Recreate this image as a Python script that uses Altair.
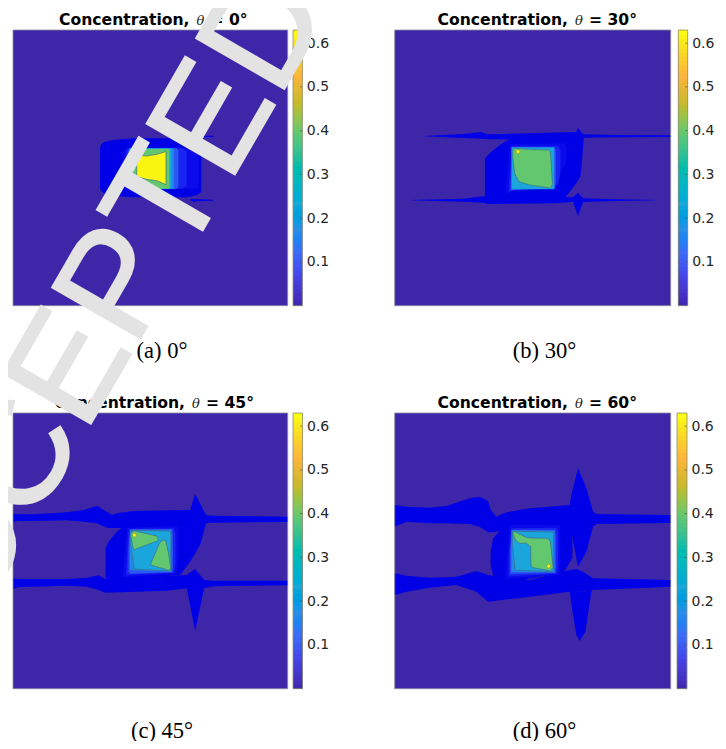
import altair as alt
import numpy as np
import pandas as pd

# Page-pixel frames of the four panels: image box, colour bar box
PANEL_IDS = ["a", "b", "c", "d"]
PANEL_LEFT = [13, 394.7, 13, 394.7]
PANEL_RIGHT = [287.7, 670.7, 287.7, 670.7]
PANEL_TOP = [30, 30, 413, 413]
PANEL_BOTTOM = [305.7, 305.7, 688.7, 688.7]
BAR_LEFT = [293, 678.3, 293, 677]
BAR_RIGHT = [302.3, 687.7, 302.5, 687]
# Shape coordinates below are measured in each panel's own grid
GRID_X = [(39, 863), (95, 923), (38, 863), (95, 923)]
GRID_Y = [(90, 917), (90, 917), (114, 941), (114, 941)]
THETA = ["0", "30", "45", "60"]
THETA_X = [200.5, 579, 196, 579]
CAPTIONS = ["(a) 0°", "(b) 30°", "(c) 45°", "(d) 60°"]
CAPTION_Y = [358, 358, 738, 738]
CAPTION_X = [162, 544.5, 162, 544.5]

BG = "#3e26a8"
BLUE = "#0000e6"
H1 = "#0a0aea"
H2 = "#1a24f0"
H3 = "#2a58f2"
H4 = "#2088e8"
CYAN = "#1aa6dc"
GREEN = "#62c76e"
YELLOW = "#f9f510"
LINE = "#3f6f8a"

CBAR_STOPS = [0.0, 0.03, 0.08, 0.13, 0.18, 0.24, 0.30, 0.36, 0.41, 0.47, 0.53, 0.58, 0.63]
CBAR_COLORS = ["#3e26a8", "#4430c4", "#4548ea", "#3d6cf8", "#2a8ee8", "#19a8d8", "#05b8bc",
               "#38c190", "#6ec86a", "#c8b92e", "#fcb43c", "#f9d528", "#f9fb15"]
CBAR_TICKS = [0.1, 0.2, 0.3, 0.4, 0.5, 0.6]
CBAR_LEVELS = [i * 0.63 / 63 for i in range(64)]

# each shape: (colour, x list, upper edge list, lower edge list, has outline)
SHAPES_A = [
    (BLUE, [555, 640], [407, 407], [411, 411], 0),
    (BLUE, [570, 582, 586, 640], [597, 597, 597, 599], [600, 606, 604, 602], 0),
    (BLUE, [300, 303, 312, 340, 400, 560, 590, 603, 604], [445, 434, 426, 420, 415, 415, 422, 432, 445],
     [565, 572, 580, 588, 592, 592, 586, 577, 565], 0),
    (H1, [370, 380, 590, 596], [452, 445, 445, 452], [558, 566, 566, 558], 0),
    (H2, [378, 385, 545, 560], [452, 445, 445, 452], [558, 566, 566, 558], 0),
    (H3, [385, 390, 530, 535], [450, 445, 445, 450], [560, 566, 566, 560], 0),
    (H4, [388, 520, 522], [446, 445, 445], [565, 566, 565], 0),
    (CYAN, [390, 514], [445, 445], [566, 566], 0),
    (GREEN, [392, 398, 508], [500, 447, 447], [530, 566, 566], 0),
    (YELLOW, [410, 440, 470, 496, 498], [466, 468, 463, 455, 456], [530, 538, 542, 553, 555], 1),
]
DOTS_A = []

SHAPES_B = [
    (BLUE, [183, 300, 355, 372, 640, 645, 656, 662, 760, 923], [408, 402, 396, 403, 396, 383, 398, 403, 405, 406],
     [409, 414, 416, 418, 420, 425, 420, 413, 412, 411], 0),
    (BLUE, [143, 300, 360, 375, 580, 630, 645, 660, 760, 878], [600, 596, 589, 592, 590, 592, 578, 595, 598, 600],
     [601, 605, 608, 612, 610, 605, 648, 606, 603, 601], 0),
    (BLUE, [366, 385, 415, 440, 600, 620, 640, 652, 656, 662], [475, 455, 432, 418, 400, 400, 400, 400, 400, 415],
     [595, 600, 605, 608, 600, 575, 550, 530, 495, 415], 0),
    (H1, [428, 440, 606, 610], [570, 432, 430, 440], [578, 578, 500, 470], 0),
    (H2, [438, 446, 585, 592], [560, 438, 438, 450], [574, 572, 555, 520], 0),
    (H3, [443, 450, 576, 578], [550, 441, 441, 460], [570, 570, 565, 540], 0),
    (H4, [445, 574], [442, 442], [568, 568], 0),
    (CYAN, [447, 572], [443, 444], [566, 567], 0),
    (GREEN, [449, 455, 468, 500, 556, 562, 568], [452, 444, 446, 448, 450, 455, 548],
     [470, 520, 545, 555, 563, 565, 553], 1),
]
DOTS_B = [(465, 455)]

SHAPES_C = [
    (BLUE, [38, 55, 100, 200, 250, 290, 320, 335, 350, 400, 540, 570, 585, 618, 640, 863],
     [416, 418, 418, 412, 405, 393, 410, 420, 415, 408, 405, 405, 357, 420, 422, 425],
     [441, 438, 438, 436, 440, 445, 458, 459, 459, 459, 459, 459, 459, 445, 443, 441], 0),
    (BLUE, [38, 55, 100, 200, 260, 295, 315, 500, 560, 585, 612, 640, 863],
     [610, 612, 612, 612, 608, 601, 612, 603, 600, 582, 615, 617, 617],
     [642, 636, 635, 632, 635, 645, 653, 647, 640, 768, 640, 634, 631], 0),
    (BLUE, [316, 325, 350, 365, 540, 570, 600, 618], [520, 500, 470, 458, 440, 430, 430, 445],
     [610, 612, 612, 612, 600, 560, 510, 445], 0),
    (H1, [368, 380, 530, 536], [605, 458, 452, 462], [608, 606, 595, 530], 0),
    (H2, [378, 385, 522, 526], [590, 461, 460, 480], [602, 600, 594, 560], 0),
    (H3, [385, 390, 516, 518], [520, 463, 462, 480], [590, 596, 592, 580], 0),
    (H4, [389, 513], [467, 466], [585, 590], 0),
    (CYAN, [392, 402, 510, 512], [472, 466, 468, 474], [510, 582, 588, 586], 1),
    (GREEN, [392, 400, 470, 475], [475, 467, 483, 495], [485, 525, 498, 495], 1),
    (GREEN, [452, 478, 487, 497, 505, 512], [565, 505, 495, 497, 535, 580], [570, 578, 580, 583, 587, 580], 1),
]
DOTS_C = [(403, 480)]

# d's green region: the step in its lower edge is kept with two nearby x values
GREEN_D_X = [450, 457, 470, 490, 503, 503.5, 510, 555, 562, 570]
GREEN_D_TOP = [472, 470, 478, 487, 489, 489, 489, 490, 500, 575]
GREEN_D_BOT = [478, 495, 505, 505, 515, 570, 578, 586, 587, 578]
SHAPES_D = [
    (BLUE, [95, 130, 200, 250, 320, 350, 375, 383, 400, 430, 500, 620, 625, 645, 670, 690, 700, 923],
     [390, 395, 398, 393, 370, 365, 378, 405, 425, 412, 400, 390, 360, 280, 340, 410, 417, 420],
     [455, 440, 445, 445, 447, 455, 472, 472, 470, 462, 455, 455, 470, 575, 530, 455, 447, 444], 0),
    (BLUE, [95, 130, 200, 280, 340, 375, 500, 620, 640, 660, 690, 923],
     [595, 602, 608, 605, 588, 600, 615, 585, 582, 590, 610, 615],
     [660, 650, 638, 630, 650, 680, 665, 650, 650, 650, 645, 635], 0),
    (BLUE, [620, 630, 640, 650, 667, 685], [640, 650, 650, 650, 650, 640], [650, 720, 780, 798, 770, 650], 0),
    (BLUE, [383, 390, 410, 430, 604, 628], [530, 490, 468, 440, 410, 410], [570, 600, 620, 625, 590, 548], 0),
    (H1, [428, 440, 590, 592], [600, 450, 450, 470], [612, 610, 600, 520], 0),
    (H2, [437, 445, 582, 585], [540, 460, 458, 470], [604, 604, 596, 560], 0),
    (H3, [442, 449, 576, 578], [520, 464, 464, 480], [598, 596, 594, 580], 0),
    (H4, [445, 574], [466, 468], [590, 592], 0),
    (CYAN, [448, 456, 568, 571], [472, 469, 471, 476], [500, 585, 590, 586], 1),
    (GREEN, GREEN_D_X, GREEN_D_TOP, GREEN_D_BOT, 1),
]
DOTS_D = [(557, 573)]

ALL_SHAPES = [SHAPES_A, SHAPES_B, SHAPES_C, SHAPES_D]
ALL_DOTS = [DOTS_A, DOTS_B, DOTS_C, DOTS_D]

WATERMARK = "ACCEPTED"
WM_X = [92.0]
WM_Y = [334.0]

W, H = 710, 733
PAGE_X = alt.Scale(domain=[0, 726], range=[-8, 718])
PAGE_Y = alt.Scale(domain=[0, 749], range=[-8, 741])
layers = []


def text_layer(x, y, text, **style):
    df = pd.DataFrame({"x": [x], "y": [y], "t": [text]})
    return alt.Chart(df).mark_text(**style).encode(
        x=alt.X("x:Q", scale=PAGE_X, axis=None),
        y=alt.Y("y:Q", scale=PAGE_Y, axis=None),
        text="t:N",
    )


for p in range(4):
    l, r, t, b = PANEL_LEFT[p], PANEL_RIGHT[p], PANEL_TOP[p], PANEL_BOTTOM[p]
    sx = alt.Scale(domain=list(GRID_X[p]), range=[l - 8, r - 8])
    sy = alt.Scale(domain=list(GRID_Y[p]), range=[t - 8, b - 8])
    bg = pd.DataFrame({"x": [GRID_X[p][0]], "x2": [GRID_X[p][1]], "y": [GRID_Y[p][0]], "y2": [GRID_Y[p][1]]})
    layers.append(alt.Chart(bg).mark_rect(color=BG).encode(
        x=alt.X("x:Q", scale=sx, axis=None), x2="x2:Q",
        y=alt.Y("y:Q", scale=sy, axis=None), y2="y2:Q"))
    for color, xs, tops, bots, outlined in ALL_SHAPES[p]:
        df = pd.DataFrame({"x": xs, "top": tops, "bot": bots})
        style = dict(color=color, interpolate="linear")
        if outlined:
            style.update(stroke=LINE, strokeWidth=0.7)
        layers.append(alt.Chart(df).mark_area(**style).encode(
            x=alt.X("x:Q", scale=sx, axis=None),
            y=alt.Y("top:Q", scale=sy, axis=None), y2="bot:Q"))
    if ALL_DOTS[p]:
        df = pd.DataFrame({"x": [d[0] for d in ALL_DOTS[p]], "y": [d[1] for d in ALL_DOTS[p]]})
        layers.append(alt.Chart(df).mark_point(filled=True, color=YELLOW, size=14, opacity=1, stroke="#8a8a40", strokeWidth=0.5).encode(
            x=alt.X("x:Q", scale=sx, axis=None), y=alt.Y("y:Q", scale=sy, axis=None)))
    # frame
    layers.append(alt.Chart(bg).mark_rect(fill=None, stroke="#8c8c9c", strokeWidth=0.8).encode(
        x=alt.X("x:Q", scale=sx, axis=None), x2="x2:Q",
        y=alt.Y("y:Q", scale=sy, axis=None), y2="y2:Q"))

    # colour bar
    bl, br = BAR_LEFT[p], BAR_RIGHT[p]
    bx = alt.Scale(domain=[0, 1], range=[bl - 8, br - 8])
    by = alt.Scale(domain=[0, 0.63], range=[b - 8, t - 8])
    lv = pd.DataFrame({"c": CBAR_LEVELS})
    lv["c0"] = (lv["c"] - 0.012).clip(lower=0)
    lv["c1"] = (lv["c"] + 0.012).clip(upper=0.63)
    lv["x"], lv["x2"] = 0, 1
    layers.append(alt.Chart(lv).mark_rect().encode(
        x=alt.X("x:Q", scale=bx, axis=None), x2="x2:Q",
        y=alt.Y("c0:Q", scale=by, axis=alt.Axis(
            orient="right", offset=-(W - (br - 8)), values=CBAR_TICKS, format=".1f", grid=False, ticks=False,
            domain=False, title=None, labelFontSize=14, labelFont="DejaVu Sans", labelColor="#262626",
            labelPadding=4)),
        y2="c1:Q",
        color=alt.Color("c:Q", scale=alt.Scale(domain=CBAR_STOPS, range=CBAR_COLORS), legend=None)))
    tk = pd.DataFrame({"v": CBAR_TICKS, "x": [0.75] * 6, "x2": [1.0] * 6})
    layers.append(alt.Chart(tk).mark_rule(color="#555544", strokeWidth=0.7).encode(
        x=alt.X("x:Q", scale=bx, axis=None), x2="x2:Q", y=alt.Y("v:Q", scale=by, axis=None)))
    fr = pd.DataFrame({"x": [0], "x2": [1], "y": [0], "y2": [0.63]})
    layers.append(alt.Chart(fr).mark_rect(fill=None, stroke="#8c8c70", strokeWidth=0.8).encode(
        x=alt.X("x:Q", scale=bx, axis=None), x2="x2:Q",
        y=alt.Y("y:Q", scale=by, axis=None), y2="y2:Q"))

    # title in three runs so that theta can be italic
    xm = THETA_X[p]
    ty = t - 5
    bold = dict(font="DejaVu Sans", fontWeight="bold", fontSize=15.6, color="#000000", baseline="alphabetic")
    layers.append(text_layer(xm - 11, ty, "Concentration,", align="right", **bold))
    layers.append(text_layer(xm, ty, "θ", align="center", font="DejaVu Serif", fontStyle="italic", fontSize=13,
                             color="#222222", baseline="alphabetic"))
    layers.append(text_layer(xm + 10, ty, f"= {THETA[p]}°", align="left", **bold))
    layers.append(text_layer(CAPTION_X[p], CAPTION_Y[p], CAPTIONS[p], align="center", font="Liberation Serif",
                             fontSize=22.5, color="#000000", baseline="alphabetic"))

layers.append(text_layer(WM_X[0], WM_Y[0], WATERMARK, align="center", baseline="middle", angle=300,
                         font="Liberation Sans", fontSize=148, color="#e3e3e3", stroke="#e3e3e3", strokeWidth=2))

chart = alt.layer(*layers).resolve_scale(x="independent", y="independent", color="independent").properties(
    width=W, height=H, padding=0, autosize="none"
).configure_view(stroke=None)

chart.save("out.html", embed_options={"renderer": "svg", "actions": False})
